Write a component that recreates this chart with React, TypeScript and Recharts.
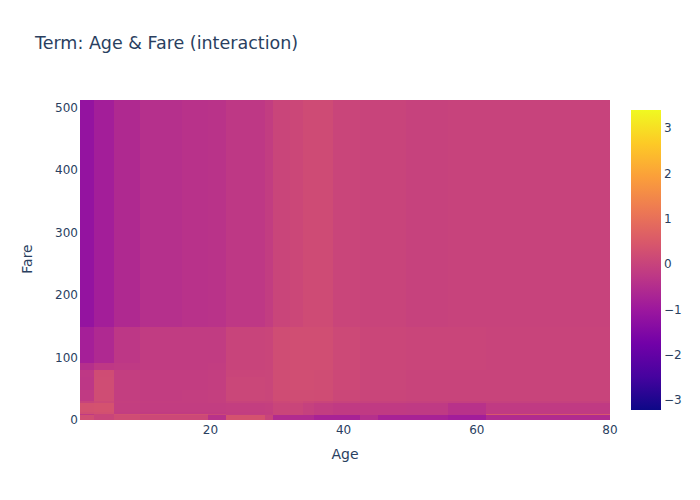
import React from 'react';
import { ComposedChart, XAxis, YAxis, ReferenceArea, Scatter } from 'recharts';

// bin edges of the interaction grid
const ageEdges = [0.42, 2.5, 5.5, 9.4, 15.7, 19.7, 22.4, 26.7, 28.2, 29.4, 31.9, 33.9, 35.5, 38.4, 42.4, 45.1, 49.4, 55.7, 61.4, 80];
const fareEdges = [0, 8, 10, 13, 26.6, 31, 48, 69, 80, 92, 149, 512.33];

// one row per fare bin (low to high), one value per age bin
const fare0to8 = [0.25, 0.05, 0.2, 0.12, 0.12, -0.4, 0.35, 0.35, 0.03, -0.55, -0.55, -0.55, -0.75, -0.75, -0.45, -0.75, -0.75, -0.88, -0.55];
const fare8to10 = [-0.2, 0.05, 0.3, 0.3, 0.3, 0.1, -0.12, -0.12, -0.1, 0.05, 0.05, -0.05, -0.15, -0.2, -0.2, -0.2, -0.22, -0.4, 0.45];
const fare10to13 = [0.25, 0.3, -0.15, -0.18, -0.18, -0.18, -0.14, -0.14, -0.12, 0.05, 0.05, -0.05, -0.15, -0.2, -0.2, -0.2, -0.22, -0.4, -0.2];
const fare13to27 = [0.32, 0.35, -0.12, -0.14, -0.15, -0.15, -0.12, -0.12, -0.1, 0.05, 0.05, -0.05, -0.15, -0.2, -0.2, -0.2, -0.22, -0.4, -0.2];
const fare27to31 = [0.0, 0.13, -0.1, -0.12, -0.12, -0.1, 0.0, 0.0, 0.0, 0.12, 0.16, 0.1, 0.05, 0.0, -0.03, -0.03, -0.05, -0.08, -0.05];
const fare31to48 = [-0.2, 0.22, -0.12, -0.13, -0.12, -0.1, 0.08, 0.08, 0.06, 0.2, 0.22, 0.22, 0.2, 0.1, 0.05, 0.05, 0.02, 0.02, 0.01];
const fare48to69 = [-0.28, 0.22, -0.12, -0.14, -0.13, -0.12, 0.08, 0.08, 0.06, 0.22, 0.24, 0.24, 0.22, 0.12, 0.06, 0.06, 0.03, 0.03, 0.02];
const fare69to80 = [-0.25, 0.2, -0.12, -0.14, -0.14, -0.12, 0.05, 0.05, 0.06, 0.22, 0.24, 0.24, 0.22, 0.12, 0.06, 0.06, 0.03, 0.03, 0.02];
const fare80to92 = [-0.46, -0.25, -0.21, -0.17, -0.17, -0.15, 0.03, 0.03, 0.05, 0.22, 0.24, 0.24, 0.24, 0.13, 0.07, 0.07, 0.04, 0.04, 0.03];
const fare92to149 = [-0.82, -0.6, -0.27, -0.17, -0.17, -0.17, 0.03, 0.03, 0.05, 0.22, 0.24, 0.24, 0.24, 0.13, 0.07, 0.07, 0.04, 0.04, 0.03];
const fare149up = [-1.15, -0.86, -0.59, -0.45, -0.4, -0.36, -0.25, -0.25, -0.15, 0.05, 0.1, 0.18, 0.18, 0.04, 0.01, 0.01, -0.02, 0.0, -0.01];

const scoreRows = [fare0to8, fare8to10, fare10to13, fare13to27, fare27to31, fare31to48, fare48to69, fare69to80, fare80to92, fare92to149, fare149up];

const ageTicks = [20, 40, 60, 80];
const fareTicks = [0, 100, 200, 300, 400, 500];
const scoreTicks = [-3, -2, -1, 0, 1, 2, 3];
const scoreMin = -3.22;
const scoreMax = 3.4;

const plasma = ['#0d0887', '#46039f', '#7201a8', '#9c179e', '#bd3786', '#d8576b', '#ed7953', '#fb9f3a', '#fdca26', '#f0f921'];

const textColor = '#2a3f5f';
const font = '"DejaVu Sans", Verdana, sans-serif';

function hexToRgb(h: string) {
  return [1, 3, 5].map((i) => parseInt(h.slice(i, i + 2), 16));
}

function plasmaColor(v: number) {
  let t = (v - scoreMin) / (scoreMax - scoreMin);
  t = Math.max(0, Math.min(1, t));
  const pos = t * (plasma.length - 1);
  const i = Math.min(Math.floor(pos), plasma.length - 2);
  const f = pos - i;
  const a = hexToRgb(plasma[i]);
  const b = hexToRgb(plasma[i + 1]);
  const c = a.map((x, k) => Math.round(x + (b[k] - x) * f));
  return `rgb(${c[0]},${c[1]},${c[2]})`;
}

const cells = scoreRows.flatMap((row, i) =>
  row.map((score, j) => ({
    x1: ageEdges[j],
    x2: ageEdges[j + 1],
    y1: fareEdges[i],
    y2: fareEdges[i + 1],
    color: plasmaColor(score),
  }))
);

const minusFmt = (v: number) => (v < 0 ? '\u2212' + Math.abs(v) : String(v));

const App = () => {
  return (
    <div style={{ position: 'absolute', left: 0, top: 0, width: 700, height: 500, background: '#fff', fontFamily: font }}>
      <div style={{ position: 'absolute', left: 35, top: 33, fontSize: 17.5, color: textColor, whiteSpace: 'nowrap' }}>
        Term: Age &amp; Fare (interaction)
      </div>

      <ComposedChart width={700} height={500} margin={{ top: 100, right: 90, bottom: 40, left: 0 }}>
        <XAxis
          type="number"
          dataKey="x"
          domain={[ageEdges[0], ageEdges[ageEdges.length - 1]]}
          ticks={ageTicks}
          allowDataOverflow
          axisLine={false}
          tickLine={false}
          tickSize={0}
          tickMargin={5}
          height={40}
          tick={{ fontSize: 12, fill: textColor }}
        />
        <YAxis
          type="number"
          dataKey="y"
          domain={[fareEdges[0], fareEdges[fareEdges.length - 1]]}
          ticks={fareTicks}
          allowDataOverflow
          axisLine={false}
          tickLine={false}
          tickSize={0}
          tickMargin={2}
          width={80}
          tick={{ fontSize: 12, fill: textColor }}
        />
        {cells.map((c, k) => (
          <ReferenceArea
            key={k}
            x1={c.x1}
            x2={c.x2}
            y1={c.y1}
            y2={c.y2}
            fill={c.color}
            fillOpacity={1}
            stroke="none"
            shapeRendering="crispEdges"
            ifOverflow="visible"
          />
        ))}
        <Scatter
          data={[{ x: ageEdges[0], y: 0 }]}
          isAnimationActive={false}
          shape={() => <g />}
        />
      </ComposedChart>

      <div style={{ position: 'absolute', left: 320, top: 446, width: 50, textAlign: 'center', fontSize: 14, color: textColor }}>
        Age
      </div>
      <div
        style={{
          position: 'absolute',
          left: 2,
          top: 251,
          width: 50,
          textAlign: 'center',
          fontSize: 14,
          color: textColor,
          transform: 'rotate(-90deg)',
        }}
      >
        Fare
      </div>

      <div style={{ position: 'absolute', left: 631, top: 100 }}>
        <ComposedChart width={69} height={320} margin={{ top: 10, right: 0, bottom: 10, left: 0 }}>
          <defs>
            <linearGradient id="plasmaBar" x1="0" y1="1" x2="0" y2="0">
              {plasma.map((c, i) => (
                <stop key={i} offset={`${(i / (plasma.length - 1)) * 100}%`} stopColor={c} />
              ))}
            </linearGradient>
          </defs>
          <XAxis type="number" dataKey="x" domain={[0, 1]} hide />
          <YAxis
            type="number"
            dataKey="y"
            orientation="right"
            domain={[scoreMin, scoreMax]}
            ticks={scoreTicks}
            allowDataOverflow
            axisLine={false}
            tickLine={false}
            tickSize={0}
            tickMargin={3}
            width={39}
            tickFormatter={minusFmt}
            tick={{ fontSize: 12, fill: textColor, textAnchor: 'start' }}
          />
          <ReferenceArea x1={0} x2={1} y1={scoreMin} y2={scoreMax} fill="url(#plasmaBar)" fillOpacity={1} ifOverflow="visible" />
          <Scatter data={[{ x: 0, y: 0 }]} isAnimationActive={false} shape={() => <g />} />
        </ComposedChart>
      </div>
    </div>
  );
};

export default App;
